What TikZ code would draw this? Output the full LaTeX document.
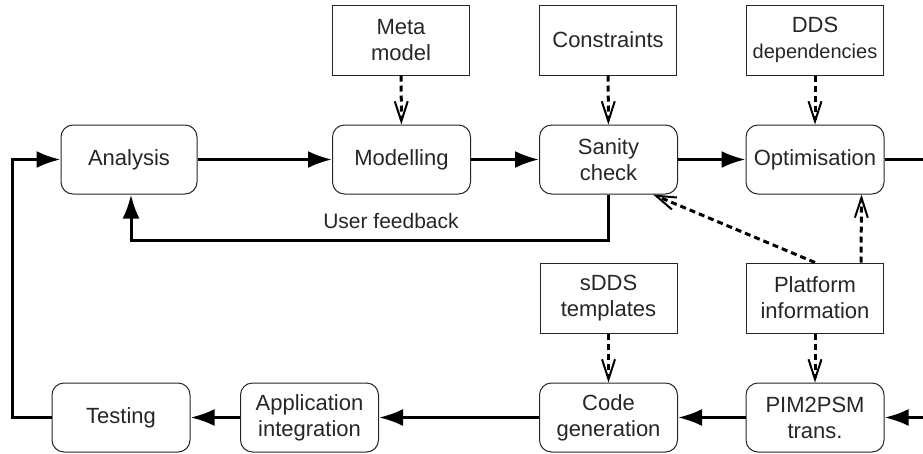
\documentclass[tikz,border=0pt]{standalone}
\usepackage{fontspec}
\setmainfont{Liberation Sans}
\usetikzlibrary{arrows.meta,calc}
\begin{document}
\begin{tikzpicture}[x=1pt,y=-1pt,
  base/.style={draw=black!85, line width=1pt, align=center, inner sep=0pt, font=\fontsize{22}{26}\selectfont, text=black!85},
  proc/.style={base, rounded corners=12pt, minimum width=138pt, minimum height=69pt},
  info/.style={base, minimum width=137pt, minimum height=70pt},
  flow/.style={line width=3pt, -{Latex[length=24pt,width=17pt]}},
  flowline/.style={line width=3pt},
  dep/.style={line width=3pt, dash pattern=on 6pt off 4pt, -{Straight Barb[length=20pt,width=13pt,line width=2pt]}}
]
\useasboundingbox (0,0) rectangle (923,453);
% top information boxes
\node[info] (meta) at (401,40) {Meta\\model};
\node[info] (cons) at (608,40) {Constraints};
\node[info] (dds)  at (815,40) {DDS\\{\fontsize{20}{26}\selectfont dependencies}};
% first process row
\node[proc, minimum width=136pt] (ana) at (129,159.5) {Analysis};
\node[proc] (mod) at (401.5,159.5) {Modelling};
\node[proc] (san) at (608.5,159.5) {Sanity\\check};
\node[proc] (opt) at (815,159.5) {Optimisation};
% middle information boxes
\node[info] (sdds) at (608.5,298) {sDDS\\templates};
\node[info] (plat) at (815,298) {Platform\\information};
% second process row
\node[proc] (test) at (121,417.5) {Testing};
\node[proc] (app)  at (309.5,417.5) {Application\\integration};
\node[proc] (code) at (608.5,417.5) {Code\\generation};
\node[proc] (pim)  at (815,417.5) {PIM2PSM\\trans.};
% label
\node[font=\fontsize{21}{26}\selectfont, text=black!85] (fbl) at (391,221) {User feedback};
% coordinates
\coordinate (re1) at (926,159.5);
\coordinate (re2) at (926,417.5);
\coordinate (lc) at (12,417.5);
\coordinate (lt) at (12,159.5);
% main flow
\draw[flow] (ana) -- (mod);
\draw[flow] (mod) -- (san);
\draw[flow] (san) -- (opt);
\draw[flowline] (opt.east) -- (re1);
\draw[flow] (re2) -- (pim.east);
\draw[flow] (pim) -- (code);
\draw[flow] (code) -- (app);
\draw[flow] (app) -- (test);
\draw[flow] (test.west) -- (lc) -- (lt) -- (ana.west);
\draw[flow] (san.south) -- ++(0,46) -| ($(ana.south)+(2,0)$);
% dependencies
\draw[dep] (meta) -- (mod);
\draw[dep] (cons) -- (san);
\draw[dep] (dds) -- (opt);
\draw[dep] (sdds) -- (code);
\draw[dep] (plat) -- (pim);
\draw[dep] (plat.north) -- ($(san.south east)+(-25,0)$);
\draw[dep] ($(plat.north east)+(-23,0)$) -- ($(opt.south east)+(-23,0)$);
\end{tikzpicture}
\end{document}
